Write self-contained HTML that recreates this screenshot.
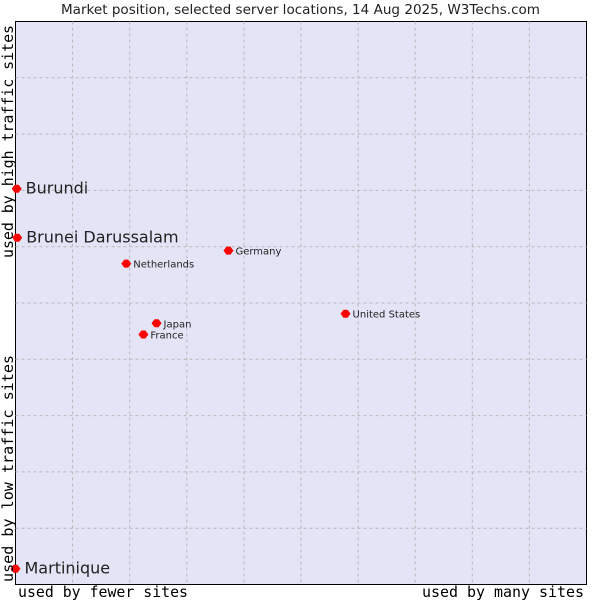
<!DOCTYPE html>
<html><head><meta charset="utf-8"><style>
body{margin:0;background:#fff;width:600px;height:600px;overflow:hidden}
svg text{font-family:"DejaVu Sans","Liberation Sans",sans-serif}
.mono{font-family:"DejaVu Sans Mono","Liberation Mono",monospace}
</style></head><body>
<svg id="chart" width="600" height="600" xmlns="http://www.w3.org/2000/svg">
<text x="61" y="14" textLength="479" lengthAdjust="spacingAndGlyphs" font-size="13" fill="#222">Market position, selected server locations, 14 Aug 2025, W3Techs.com</text>
<rect x="15.5" y="21.5" width="571" height="563" fill="#e3e5f7" stroke="#000" stroke-width="1"/>
<g id="grid"></g>
<g id="marks"></g>
<text class="mono" x="18" y="597" font-size="15" textLength="170" lengthAdjust="spacingAndGlyphs" fill="#000">used by fewer sites</text>
<text class="mono" x="422" y="597" font-size="15" textLength="162" lengthAdjust="spacingAndGlyphs" fill="#000">used by many sites</text>
<text class="mono" transform="translate(13,258) rotate(-90)" font-size="15" textLength="233" lengthAdjust="spacingAndGlyphs" fill="#000">used by high traffic sites</text>
<text class="mono" transform="translate(13,582) rotate(-90)" font-size="15" textLength="227" lengthAdjust="spacingAndGlyphs" fill="#000">used by low traffic sites</text>
</svg>
<script>
const names=["Burundi","Brunei Darussalam","Netherlands","Germany","United States","Japan","France","Martinique"];
const xVals=[0.2,0.3,19.4,37.3,57.8,24.7,22.4,0];
const yVals=[70.3,61.6,57.0,59.3,48.1,46.4,44.4,2.8];
const bigLabel=[true,true,false,false,false,false,false,true];
const L=15.5,T=21.5,W=571,H=563;
const sx=v=>L+v/100*W, sy=v=>T+H-v/100*H;
const NS="http://www.w3.org/2000/svg";
const grid=document.getElementById('grid'), marks=document.getElementById('marks');
for(let i=1;i<10;i++){
 const a=document.createElementNS(NS,'line');
 
 
 a.setAttribute('x1',sx(i*10));a.setAttribute('x2',sx(i*10));a.setAttribute('y1',T);a.setAttribute('y2',T+H);
 a.setAttribute('stroke','#b8b8b8');a.setAttribute('stroke-dasharray','3,3');grid.appendChild(a);
 const b=document.createElementNS(NS,'line');
 
 
 b.setAttribute('y1',sy(i*10));b.setAttribute('y2',sy(i*10));b.setAttribute('x1',L);b.setAttribute('x2',L+W);
 b.setAttribute('stroke','#b8b8b8');b.setAttribute('stroke-dasharray','3,3');grid.appendChild(b);
}
names.forEach((n,i)=>{
 const x=sx(xVals[i]),y=sy(yVals[i]);
 const p=document.createElementNS(NS,'polygon');
 
 
 p.setAttribute('points',`${x-5},${y} ${x-2},${y-4} ${x+2},${y-4} ${x+5},${y} ${x+2},${y+4} ${x-2},${y+4}`);
 p.setAttribute('fill','#f00');marks.appendChild(p);
 const t=document.createElementNS(NS,'text');
 
 
 const big=bigLabel[i];
 t.setAttribute('x',x+(big?9:7));t.setAttribute('y',y+(big?5:4));
 t.setAttribute('font-size',big?16:10);t.setAttribute('fill','#222');
 t.textContent=n;marks.appendChild(t);
});
</script>
</body></html>
